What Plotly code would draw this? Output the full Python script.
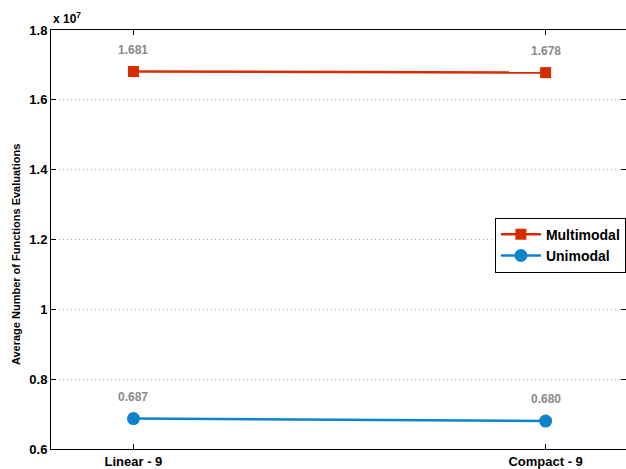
import plotly.graph_objects as go

# Average number of function evaluations (in units of 1e7)
categories = ["Linear - 9", "Compact - 9"]
x_pos = [1, 2]
multimodal = [1.681, 1.678]
unimodal = [0.687, 0.680]
y_ticks = [0.6, 0.8, 1.0, 1.2, 1.4, 1.6, 1.8]
y_tick_labels = ["0.6", "0.8", "1", "1.2", "1.4", "1.6", "1.8"]

RED = "#D92B00"
BLUE = "#0E83CB"
FONT = "Liberation Sans"

fig = go.Figure()
fig.add_trace(go.Scatter(
    x=x_pos, y=multimodal, name="Multimodal", mode="lines+markers",
    line=dict(color=RED, width=2.5),
    marker=dict(symbol="square", size=11, color=RED),
))
fig.add_trace(go.Scatter(
    x=x_pos, y=unimodal, name="Unimodal", mode="lines+markers",
    line=dict(color=BLUE, width=2.5),
    marker=dict(symbol="circle", size=13, color=BLUE),
))

# value labels above each point
annotations = []
for series in (multimodal, unimodal):
    for xv, yv in zip(x_pos, series):
        annotations.append(dict(
            x=xv, y=yv, xref="x", yref="y", text=f"{yv:.3f}",
            showarrow=False, yshift=22,
            font=dict(family=FONT, size=12, color="#8A8A8A", weight="bold"),
        ))

annotations.append(dict(
    x=-0.061, y=0.465, xref="paper", yref="paper",
    text="Average Number of Functions Evaluations", textangle=-90,
    showarrow=False, xanchor="center", yanchor="middle",
    font=dict(family=FONT, size=11, color="black", weight="bold"),
))
annotations.append(dict(
    x=0.0, y=1.0, xref="paper", yref="paper",
    text="x 10<sup>7</sup>", showarrow=False,
    xanchor="left", yanchor="bottom", yshift=2,
    font=dict(family=FONT, size=12, color="black", weight="bold"),
))

fig.update_layout(
    width=626, height=469,
    margin=dict(l=51, r=0, t=30, b=20),
    paper_bgcolor="white", plot_bgcolor="white",
    font=dict(family=FONT, size=12, color="black"),
    showlegend=True,
    legend=dict(
        x=0.772, y=0.552, xanchor="left", yanchor="top",
        bgcolor="white", bordercolor="black", borderwidth=1,
        font=dict(family=FONT, size=14, color="black", weight="bold"),
        tracegroupgap=0, itemwidth=40,
    ),
    annotations=annotations,
)

fig.update_xaxes(
    range=[0.8, 2.195], tickvals=x_pos, ticktext=categories,
    showgrid=False, zeroline=False,
    showline=True, linecolor="black", linewidth=1, mirror="ticks",
    ticks="inside", ticklen=5, tickcolor="black",
    tickfont=dict(family=FONT, size=13, color="black", weight="bold"),
)
fig.update_yaxes(
    range=[0.6, 1.8], tickvals=y_ticks, ticktext=y_tick_labels,
    showgrid=True, gridcolor="#a8a8a8", gridwidth=1, griddash="1px,3px",
    zeroline=False,
    showline=True, linecolor="black", linewidth=1, mirror="ticks",
    ticks="inside", ticklen=5, tickcolor="black",
    tickfont=dict(family=FONT, size=13, color="black", weight="bold"),
)

fig.write_html("out.html")
